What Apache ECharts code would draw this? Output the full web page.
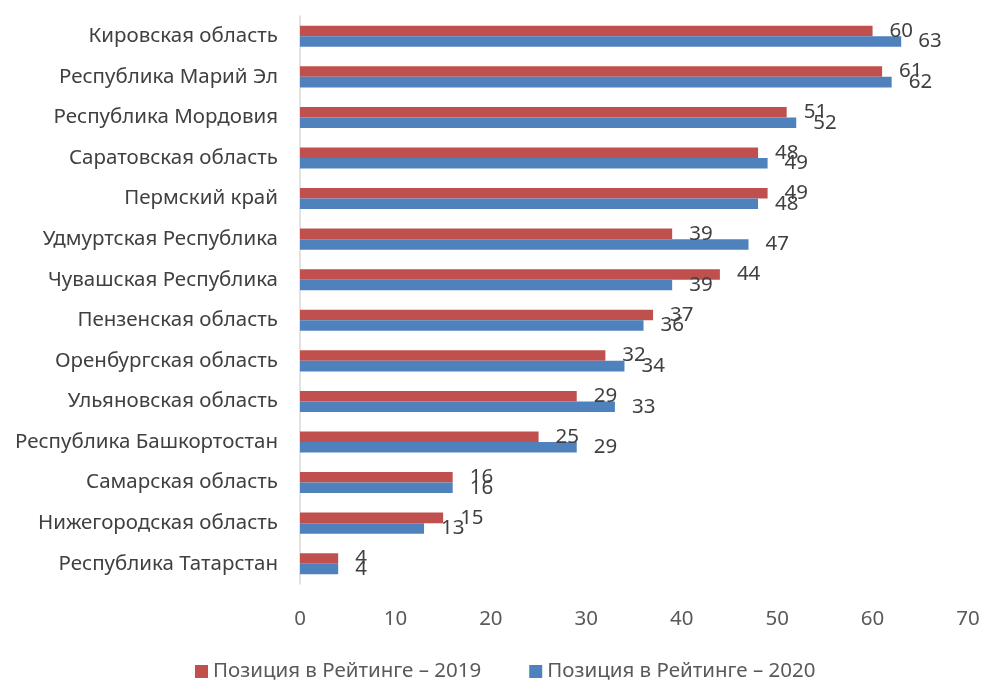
<!DOCTYPE html>
<html>
<head>
<meta charset="utf-8">
<script src="https://cdn.jsdelivr.net/npm/echarts@6/dist/echarts.min.js"></script>
<style>html,body{margin:0;padding:0;background:#fff}#c{width:986px;height:680px}</style>
</head>
<body>
<div id="c"></div>
<script>
const categories = [
  "Кировская область",
  "Республика Марий Эл",
  "Республика Мордовия",
  "Саратовская область",
  "Пермский край",
  "Удмуртская Республика",
  "Чувашская Республика",
  "Пензенская область",
  "Оренбургская область",
  "Ульяновская область",
  "Республика Башкортостан",
  "Самарская область",
  "Нижегородская область",
  "Республика Татарстан"
];
const values2019 = [60, 61, 51, 48, 49, 39, 44, 37, 32, 29, 25, 16, 15, 4];
const values2020 = [63, 62, 52, 49, 48, 47, 39, 36, 34, 33, 29, 16, 13, 4];
const xTicks = [0, 10, 20, 30, 40, 50, 60, 70];
const seriesNames = ["Позиция в Рейтинге – 2019", "Позиция в Рейтинге – 2020"];

const FONT = "Noto Sans";
const FS = 20.5;
const chart = echarts.init(document.getElementById('c'), null, {renderer: 'canvas'});
const lbl = {
  show: true, position: 'right', distance: 17,
  color: '#404040', fontSize: FS, fontFamily: FONT
};
chart.setOption({
  animation: false,
  textStyle: {fontFamily: FONT},
  grid: {left: 300, right: 18, top: 16, bottom: 96, containLabel: false},
  legend: {
    top: 656, left: 190, itemWidth: 13, itemHeight: 13, itemGap: 48,
    icon: 'rect',
    textStyle: {color: '#595959', fontSize: FS, fontFamily: FONT},
    data: seriesNames
  },
  xAxis: {
    type: 'value', min: xTicks[0], max: xTicks[xTicks.length - 1], interval: 10,
    axisLine: {show: false}, axisTick: {show: false}, splitLine: {show: false},
    axisLabel: {color: '#595959', fontSize: FS, fontFamily: FONT, margin: 25}
  },
  yAxis: {
    type: 'category', data: categories, inverse: true,
    axisLine: {show: true, lineStyle: {color: '#d9d9d9', width: 1.5}},
    axisTick: {show: false},
    axisLabel: {color: '#404040', fontSize: FS, fontFamily: FONT, margin: 22}
  },
  series: [
    {name: seriesNames[0], type: 'bar', data: values2019, barGap: '0%', barCategoryGap: '48%',
     itemStyle: {color: '#C0504D'}, label: lbl},
    {name: seriesNames[1], type: 'bar', data: values2020, barGap: '0%', barCategoryGap: '48%',
     itemStyle: {color: '#4F81BD'}, label: lbl}
  ]
});
</script>
</body>
</html>
